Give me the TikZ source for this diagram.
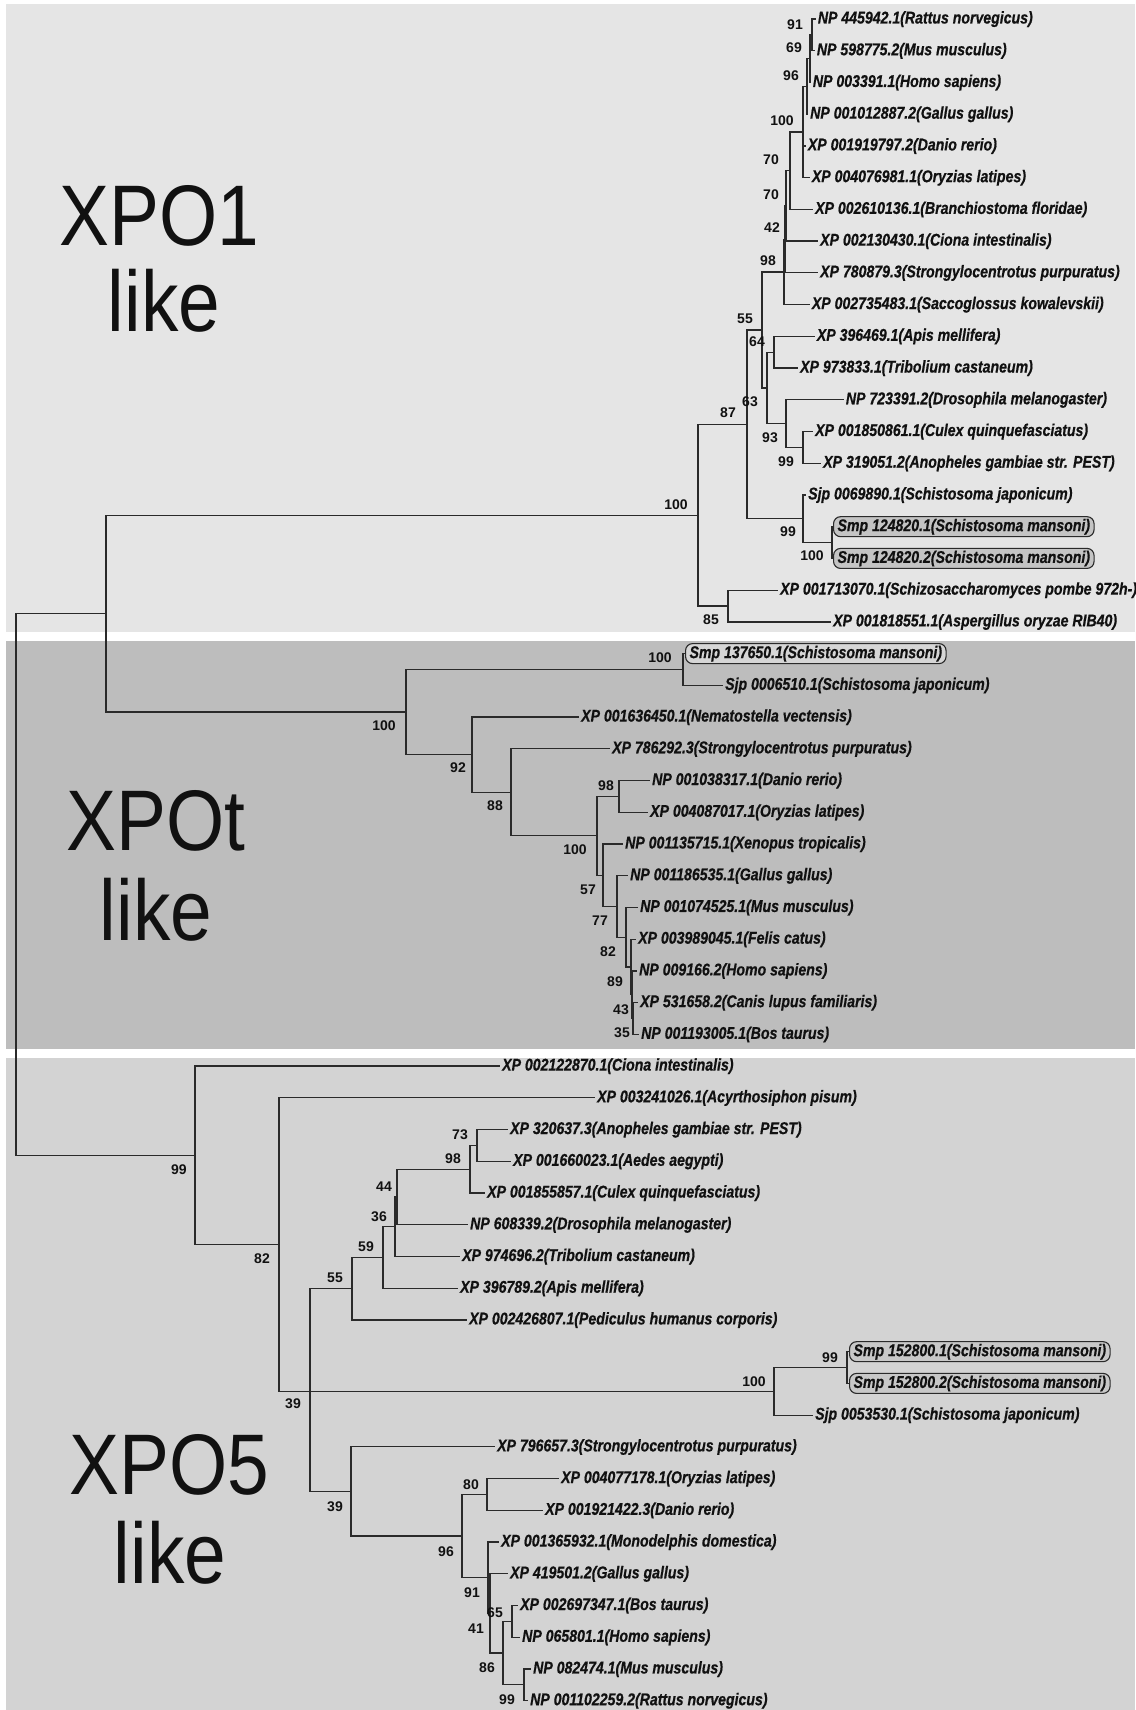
\documentclass[tikz,border=0pt]{standalone}
\usepackage{fontspec}
\newfontfamily\labfont[FakeStretch=0.83, BoldItalicFeatures={FakeBold=0.6}]{Liberation Sans}
\newfontfamily\bigfont[FakeStretch=0.87]{Liberation Sans}
\newfontfamily\numfont{Liberation Sans}
\definecolor{linec}{HTML}{2A2A2A}
\definecolor{textc}{HTML}{111111}
\definecolor{panelA}{HTML}{E5E5E5}
\definecolor{panelB}{HTML}{BDBDBD}
\definecolor{panelC}{HTML}{D3D3D3}
\definecolor{boxA}{HTML}{C4C4C4}
\definecolor{boxB}{HTML}{D6D6D6}
\definecolor{boxC}{HTML}{C8C8C8}
\tikzset{
  br/.style={draw=linec, line width=1.25pt},
  leaf/.style={anchor=west, inner xsep=2pt, inner ysep=0pt, text=textc,
    font=\labfont\bfseries\itshape\fontsize{17}{17}\selectfont,
    text height=12.5pt, text depth=3.5pt},
  smpbox/.style={leaf, draw=linec, line width=1.1pt, rounded corners=7pt,
    inner xsep=4pt, inner ysep=2pt},
  bs/.style={inner sep=0pt, text=textc, font=\numfont\bfseries\fontsize{14}{14}\selectfont},
  big/.style={anchor=base, inner sep=0pt, text=textc, font=\bigfont\fontsize{86}{86}\selectfont}
}
\begin{document}
\begin{tikzpicture}[x=1pt,y=-1pt]
\useasboundingbox (0,0) rectangle (1135,1710);
\fill[white] (0,0) rectangle (1135,1710);
% panels
\fill[panelA] (5.5,4.5) rectangle (1135,632);
\fill[panelB] (5.5,641) rectangle (1135,1049);
\fill[panelC] (5.5,1058) rectangle (1135,1710);

% big labels
\node[big] (t1) at (159.5,245) {XPO1};
\node[big] (t1b) at (164,331) {like};
\node[big] (t2) at (156,850) {XPOt};
\node[big] (t2b) at (156,940) {like};
\node[big] (t3) at (169,1494) {XPO5};
\node[big] (t3b) at (170,1583) {like};

% ---------------- leaves XPO1
\node[leaf] (L0) at (815.7,19.0) {NP 445942.1(Rattus norvegicus)};
\node[leaf] (L1) at (814.7,50.73) {NP 598775.2(Mus musculus)};
\node[leaf] (L2) at (810.7,82.46) {NP 003391.1(Homo sapiens)};
\node[leaf] (L3) at (808,114.19) {NP 001012887.2(Gallus gallus)};
\node[leaf] (L4) at (805.7,145.92) {XP 001919797.2(Danio rerio)};
\node[leaf] (L5) at (809.7,177.65) {XP 004076981.1(Oryzias latipes)};
\node[leaf] (L6) at (813,209.38) {XP 002610136.1(Branchiostoma floridae)};
\node[leaf] (L7) at (818,241.11) {XP 002130430.1(Ciona intestinalis)};
\node[leaf] (L8) at (818,272.84) {XP 780879.3(Strongylocentrotus purpuratus)};
\node[leaf] (L9) at (809.7,304.57) {XP 002735483.1(Saccoglossus kowalevskii)};
\node[leaf] (L10) at (814.7,336.3) {XP 396469.1(Apis mellifera)};
\node[leaf] (L11) at (798,368.03) {XP 973833.1(Tribolium castaneum)};
\node[leaf] (L12) at (843.7,399.76) {NP 723391.2(Drosophila melanogaster)};
\node[leaf] (L13) at (813,431.49) {XP 001850861.1(Culex quinquefasciatus)};
\node[leaf] (L14) at (821,463.22) {XP 319051.2(Anopheles gambiae str. PEST)};
\node[leaf] (L15) at (806,494.95) {Sjp 0069890.1(Schistosoma japonicum)};
\node[smpbox, fill=boxA] (L16) at (833,526.68) {Smp 124820.1(Schistosoma mansoni)};
\node[smpbox, fill=boxA] (L17) at (833,558.41) {Smp 124820.2(Schistosoma mansoni)};
\node[leaf] (L18) at (778,590.14) {XP 001713070.1(Schizosaccharomyces pombe 972h-)};
\node[leaf] (L19) at (831,621.87) {XP 001818551.1(Aspergillus oryzae RIB40)};

% ---------------- leaves XPOt
\node[smpbox, fill=boxB] (L20) at (685,653.6) {Smp 137650.1(Schistosoma mansoni)};
\node[leaf] (L21) at (723,685.33) {Sjp 0006510.1(Schistosoma japonicum)};
\node[leaf] (L22) at (579,717.06) {XP 001636450.1(Nematostella vectensis)};
\node[leaf] (L23) at (610,748.79) {XP 786292.3(Strongylocentrotus purpuratus)};
\node[leaf] (L24) at (650,780.52) {NP 001038317.1(Danio rerio)};
\node[leaf] (L25) at (648,812.25) {XP 004087017.1(Oryzias latipes)};
\node[leaf] (L26) at (623,843.98) {NP 001135715.1(Xenopus tropicalis)};
\node[leaf] (L27) at (628,875.71) {NP 001186535.1(Gallus gallus)};
\node[leaf] (L28) at (638,907.44) {NP 001074525.1(Mus musculus)};
\node[leaf] (L29) at (636,939.17) {XP 003989045.1(Felis catus)};
\node[leaf] (L30) at (637,970.9) {NP 009166.2(Homo sapiens)};
\node[leaf] (L31) at (638,1002.63) {XP 531658.2(Canis lupus familiaris)};
\node[leaf] (L32) at (639,1034.36) {NP 001193005.1(Bos taurus)};

% ---------------- leaves XPO5
\node[leaf] (L33) at (500,1066.09) {XP 002122870.1(Ciona intestinalis)};
\node[leaf] (L34) at (595,1097.82) {XP 003241026.1(Acyrthosiphon pisum)};
\node[leaf] (L35) at (508,1129.55) {XP 320637.3(Anopheles gambiae str. PEST)};
\node[leaf] (L36) at (511,1161.28) {XP 001660023.1(Aedes aegypti)};
\node[leaf] (L37) at (485,1193.01) {XP 001855857.1(Culex quinquefasciatus)};
\node[leaf] (L38) at (468,1224.74) {NP 608339.2(Drosophila melanogaster)};
\node[leaf] (L39) at (460,1256.47) {XP 974696.2(Tribolium castaneum)};
\node[leaf] (L40) at (458,1288.2) {XP 396789.2(Apis mellifera)};
\node[leaf] (L41) at (467,1319.93) {XP 002426807.1(Pediculus humanus corporis)};
\node[smpbox, fill=boxC] (L42) at (849,1351.66) {Smp 152800.1(Schistosoma mansoni)};
\node[smpbox, fill=boxC] (L43) at (849,1383.39) {Smp 152800.2(Schistosoma mansoni)};
\node[leaf] (L44) at (813,1415.12) {Sjp 0053530.1(Schistosoma japonicum)};
\node[leaf] (L45) at (495,1446.85) {XP 796657.3(Strongylocentrotus purpuratus)};
\node[leaf] (L46) at (559,1478.58) {XP 004077178.1(Oryzias latipes)};
\node[leaf] (L47) at (543,1510.31) {XP 001921422.3(Danio rerio)};
\node[leaf] (L48) at (499,1542.04) {XP 001365932.1(Monodelphis domestica)};
\node[leaf] (L49) at (508,1573.77) {XP 419501.2(Gallus gallus)};
\node[leaf] (L50) at (518,1605.5) {XP 002697347.1(Bos taurus)};
\node[leaf] (L51) at (520,1637.23) {NP 065801.1(Homo sapiens)};
\node[leaf] (L52) at (531,1668.96) {NP 082474.1(Mus musculus)};
\node[leaf] (L53) at (528,1700.69) {NP 001102259.2(Rattus norvegicus)};

% ---------------- internal nodes
\coordinate (root) at (16,880);
\coordinate (nA) at (106,613.5);
% XPO1
\coordinate (n1) at (698,515.2);
\coordinate (n85) at (728,606);
\coordinate (n87) at (747,424.4);
\coordinate (n99s) at (803,518.8);
\coordinate (n100s) at (832,542.6);
\coordinate (n55) at (762,330);
\coordinate (n63) at (767,387.9);
\coordinate (n64) at (774,352.2);
\coordinate (n93) at (786,423.6);
\coordinate (n99c) at (803,447.4);
\coordinate (n98) at (784,272);
\coordinate (n42) at (785,239.5);
\coordinate (n70b) at (786,206);
\coordinate (n70a) at (790,170.8);
\coordinate (n100v) at (803,132);
\coordinate (n96) at (807,86.3);
\coordinate (n69) at (810,58.6);
\coordinate (n91) at (812,34.85);
% XPOt
\coordinate (nT) at (406,712);
\coordinate (n100S) at (683,669.5);
\coordinate (n92) at (472,754.7);
\coordinate (n88) at (511,792.3);
\coordinate (n100vt) at (597,835.8);
\coordinate (n98t) at (619,796.4);
\coordinate (n57) at (603,875.2);
\coordinate (n77) at (617,906.5);
\coordinate (n82t) at (626,937.2);
\coordinate (n89) at (631,967);
\coordinate (n43) at (632,994.7);
\coordinate (n35) at (633,1018.5);
% XPO5
\coordinate (n99X) at (195,1155.3);
\coordinate (n82b) at (279,1244.6);
\coordinate (n39a) at (310,1391.3);
\coordinate (n55b) at (352,1288.7);
\coordinate (n59) at (383,1257.5);
\coordinate (n36) at (395,1226.7);
\coordinate (n44) at (397,1197);
\coordinate (n98b) at (470,1169.2);
\coordinate (n73) at (477,1145.4);
\coordinate (n100m) at (774,1391.3);
\coordinate (n99m) at (847,1367.5);
\coordinate (n39b) at (351,1491.4);
\coordinate (n96b) at (462,1536);
\coordinate (n80) at (487,1494.4);
\coordinate (n91b) at (488,1577.7);
\coordinate (n41) at (490,1613.4);
\coordinate (n86) at (503,1653.1);
\coordinate (n65) at (512,1621.4);
\coordinate (n99r) at (524,1684.8);

% ---------------- branches
\foreach \p/\c in {root/nA, root/n99X, nA/n1, nA/nT,
  n1/n87, n1/n85, n85/L18.west, n85/L19.west,
  n87/n55, n87/n99s, n99s/L15.west, n99s/n100s, n100s/L16.west, n100s/L17.west,
  n55/n98, n55/n63, n63/n64, n63/n93, n64/L10.west, n64/L11.west,
  n93/L12.west, n93/n99c, n99c/L13.west, n99c/L14.west,
  n98/n42, n98/L9.west, n42/n70b, n42/L8.west, n70b/n70a, n70b/L7.west,
  n70a/n100v, n70a/L6.west, n100v/n96, n100v/L4.west, n100v/L5.west,
  n96/n69, n96/L3.west, n69/n91, n69/L2.west, n91/L0.west, n91/L1.west,
  nT/n100S, nT/n92, n100S/L20.west, n100S/L21.west, n92/L22.west, n92/n88,
  n88/L23.west, n88/n100vt, n100vt/n98t, n100vt/n57, n98t/L24.west, n98t/L25.west,
  n57/L26.west, n57/n77, n77/L27.west, n77/n82t, n82t/L28.west, n82t/n89,
  n89/L29.west, n89/n43, n43/L30.west, n43/n35, n35/L31.west, n35/L32.west,
  n99X/L33.west, n99X/n82b, n82b/L34.west, n82b/n39a,
  n39a/n55b, n39a/n100m, n39a/n39b,
  n55b/n59, n55b/L41.west, n59/n36, n59/L40.west, n36/n44, n36/L39.west,
  n44/n98b, n44/L38.west, n98b/n73, n98b/L37.west, n73/L35.west, n73/L36.west,
  n100m/n99m, n100m/L44.west, n99m/L42.west, n99m/L43.west,
  n39b/L45.west, n39b/n96b, n96b/n80, n96b/n91b, n80/L46.west, n80/L47.west,
  n91b/L48.west, n91b/n41, n41/L49.west, n41/n86, n86/n65, n86/n99r,
  n65/L50.west, n65/L51.west, n99r/L52.west, n99r/L53.west}
  \draw[br] (\p) |- (\c);

% ---------------- bootstrap values
% XPO1
\node[bs] (b1) at (795,25) {91};
\node[bs] (b2) at (794,48) {69};
\node[bs] (b3) at (791,76) {96};
\node[bs] (b4) at (782,121) {100};
\node[bs] (b5) at (771,160) {70};
\node[bs] (b6) at (771,195) {70};
\node[bs] (b7) at (772,228) {42};
\node[bs] (b8) at (768,261) {98};
\node[bs] (b9) at (745,319) {55};
\node[bs] (b10) at (757,342) {64};
\node[bs] (b11) at (750,402) {63};
\node[bs] (b12) at (728,413) {87};
\node[bs] (b13) at (770,438) {93};
\node[bs] (b14) at (786,462) {99};
\node[bs] (b15) at (676,505) {100};
\node[bs] (b16) at (788,532) {99};
\node[bs] (b17) at (812,556) {100};
\node[bs] (b18) at (711,620) {85};
% XPOt
\node[bs] (b19) at (660,658) {100};
\node[bs] (b20) at (384,726) {100};
\node[bs] (b21) at (458,768) {92};
\node[bs] (b22) at (495,806) {88};
\node[bs] (b23) at (606,786) {98};
\node[bs] (b24) at (575,850) {100};
\node[bs] (b25) at (588,890) {57};
\node[bs] (b26) at (600,921) {77};
\node[bs] (b27) at (608,952) {82};
\node[bs] (b28) at (615,982) {89};
\node[bs] (b29) at (621,1010) {43};
\node[bs] (b30) at (622,1033) {35};
% XPO5
\node[bs] (b31) at (179,1170) {99};
\node[bs] (b32) at (262,1259) {82};
\node[bs] (b33) at (460,1135) {73};
\node[bs] (b34) at (453,1159) {98};
\node[bs] (b35) at (384,1187) {44};
\node[bs] (b36) at (379,1217) {36};
\node[bs] (b37) at (366,1247) {59};
\node[bs] (b38) at (335,1278) {55};
\node[bs] (b39) at (754,1382) {100};
\node[bs] (b40) at (830,1358) {99};
\node[bs] (b41) at (293,1404) {39};
\node[bs] (b42) at (335,1507) {39};
\node[bs] (b43) at (471,1485) {80};
\node[bs] (b44) at (446,1552) {96};
\node[bs] (b45) at (472,1593) {91};
\node[bs] (b46) at (495,1613) {65};
\node[bs] (b47) at (476,1629) {41};
\node[bs] (b48) at (487,1668) {86};
\node[bs] (b49) at (507,1700) {99};
\end{tikzpicture}
\end{document}
